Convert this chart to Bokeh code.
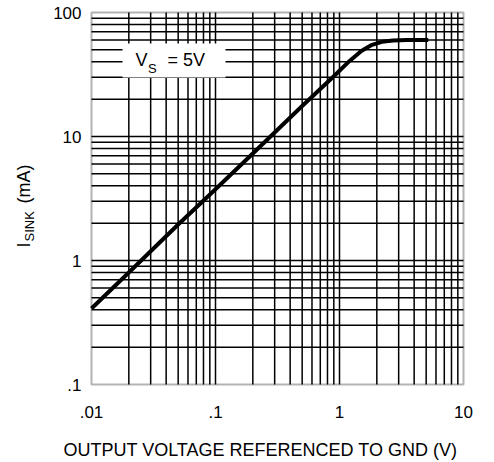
import numpy as np
from bokeh.plotting import figure
from bokeh.models import Label, BoxAnnotation, Range1d
from bokeh.core.properties import value
from bokeh.embed import file_html
from bokeh.resources import INLINE

# ---- data ----
vout = [0.01, 0.02, 0.05, 0.1, 0.2, 0.5, 0.9, 1.2, 1.5, 1.8, 2.2, 2.7, 3.5, 5.2]
isink = [0.41, 0.8, 1.95, 3.75, 7.3, 17.6, 30.6, 40.5, 49.0, 54.5, 58.0, 59.5, 60.0, 60.0]

x_major = [0.01, 0.1, 1, 10]
x_labels = [".01", ".1", "1", "10"]
y_major = [0.1, 1, 10, 100]
y_labels = [".1", "1", "10", "100"]
mults = [2, 3, 4, 5, 6, 7, 8, 9]

x_minor = [m * 10.0 ** k for k in range(-2, 1) for m in mults]
y_minor = [m * 10.0 ** k for k in range(-1, 2) for m in mults]

FONT = "Liberation Sans"
W, H = 494, 462

# plot-box geometry in canvas pixels (the canvas is the whole frame)
FL, FR, FT, FB = 91, 463, 12, 384
SH = 0.33  # baseline correction (fraction of font size)


def dx(px):
    return 10 ** (np.log10(x_major[0]) + 3 * (px - FL) / (FR - FL))


def dy(py):
    return 10 ** (np.log10(y_major[0]) + 3 * (FB - py) / (FB - FT))


p = figure(width=W, height=H, x_axis_type="log", y_axis_type="log",
           x_range=Range1d(dx(0), dx(W)), y_range=Range1d(dy(H), dy(0)),
           x_axis_location=None, y_axis_location=None,
           output_backend="svg", toolbar_location=None, min_border=0)

p.background_fill_color = "white"
p.border_fill_color = "white"
p.outline_line_color = None
p.grid.visible = False

# grid lines at every major / minor decade tick
xg = [v for v in x_major[1:-1] + x_minor]
yg = [v for v in y_major[1:-1] + y_minor]
p.segment(x0=xg, y0=y_major[0], x1=xg, y1=y_major[-1], line_color="black", line_width=1.5)
p.segment(x0=x_major[0], y0=yg, x1=x_major[-1], y1=yg, line_color="black", line_width=1.5)

# plot box outline
p.add_layout(BoxAnnotation(left=x_major[0], right=x_major[-1], bottom=y_major[0], top=y_major[-1],
                           fill_alpha=0, line_color="black", line_width=2))

# curve
p.line(vout, isink, line_width=4, line_color="black", line_join="round")

# white box behind the V_S annotation
p.add_layout(BoxAnnotation(left=dx(122), right=dx(225), bottom=dy(77), top=dy(43),
                           fill_color="white", fill_alpha=1, line_color=None))

# tick labels
TS = 17
p.text(x=x_major, y=y_major[0], text=x_labels, text_font=value(FONT), text_font_size=value(f"{TS}px"),
       text_color="black", text_align="center", text_baseline="alphabetic",
       y_offset=33 - SH * TS)
p.text(x=x_major[0], y=y_major, text=y_labels, text_font=value(FONT), text_font_size=value(f"{TS}px"),
       text_color="black", text_align="right", text_baseline="alphabetic",
       x_offset=-10, y_offset=6 - SH * TS)


def lab(px, py, text, size, rot=False):
    if rot:
        px = px - SH * size
    else:
        py = py - SH * size
    p.add_layout(Label(x=dx(px), y=dy(py), text=text, text_font=FONT, text_font_size=f"{size}px",
                       text_color="black", text_align="left", text_baseline="alphabetic",
                       angle=(np.pi / 2 if rot else 0.0)))


lab(135, 65, "V", 18)
lab(147.5, 72, "S", 13)
lab(167, 65, "= 5V", 18)

# y-axis title (rotated), with subscript
lab(29, 247, "I", 18, True)
lab(33, 241, "SINK", 13, True)
lab(29, 203, "(mA)", 18, True)

# x-axis title
lab(63, 455, "OUTPUT VOLTAGE REFERENCED TO GND (V)", 18)

open("out.html", "w").write(file_html(p, INLINE))
